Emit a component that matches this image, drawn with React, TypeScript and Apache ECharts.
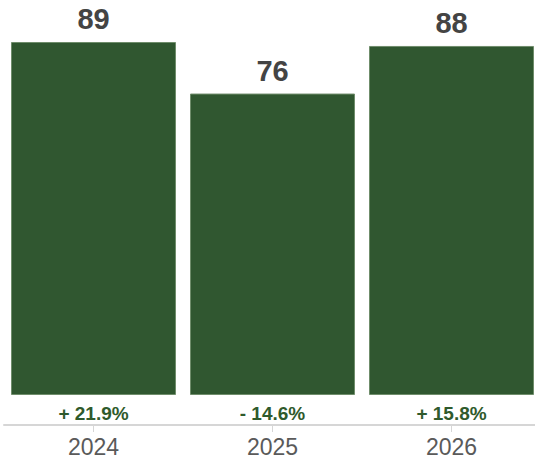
import React, { useEffect, useRef } from "react";
import * as echarts from "echarts";

const categories = ["2024", "2025", "2026"];
const values = [89, 76, 88];
const changes = ["+ 21.9%", "- 14.6%", "+ 15.8%"];

const FONT = "'Liberation Sans', Arial, Helvetica, sans-serif";

export default function App() {
  const ref = useRef<HTMLDivElement>(null);
  useEffect(() => {
    if (!ref.current) return;
    const chart = echarts.init(ref.current, undefined, { renderer: "svg" });
    chart.setOption({
      animation: false,
      textStyle: { fontFamily: FONT },
      grid: { left: 4, width: 537, top: 42, bottom: 66, containLabel: false },
      xAxis: [
        {
          type: "category",
          data: categories,
          position: "bottom",
          offset: 30,
          axisLine: { show: true, onZero: false, lineStyle: { color: "#d6d6d6", width: 2 } },
          axisTick: { show: true, length: 7, alignWithLabel: true, lineStyle: { color: "#d6d6d6", width: 1 } },
          axisLabel: { color: "#5a5a5a", fontSize: 23, margin: 10.5, fontFamily: FONT },
          splitLine: { show: false },
        },
        {
          type: "category",
          data: changes,
          position: "bottom",
          offset: 0,
          axisLine: { show: false, onZero: false },
          axisTick: { show: false },
          axisLabel: { color: "#2f5a2c", fontSize: 19, fontWeight: "bold", margin: 9, fontFamily: FONT },
          splitLine: { show: false },
        },
      ],
      yAxis: {
        type: "value",
        min: 0,
        max: 89,
        show: false,
        splitLine: { show: false },
      },
      series: [
        {
          type: "bar",
          data: values,
          xAxisIndex: 0,
          barWidth: 165,
          itemStyle: { color: "#305730", borderColor: "#6f8d6b", borderWidth: 1 },
          label: {
            show: true,
            position: "top",
            distance: 8.5,
            color: "#444444",
            fontSize: 29,
            fontWeight: "bold",
            fontFamily: FONT,
          },
        },
      ],
    });
    return () => chart.dispose();
  }, []);
  return (
    <div
      style={{ position: "fixed", left: 0, top: 0, width: 535, height: 461, overflow: "hidden", background: "#fff" }}
    >
      <div ref={ref} style={{ width: 545, height: 461 }} />
    </div>
  );
}
